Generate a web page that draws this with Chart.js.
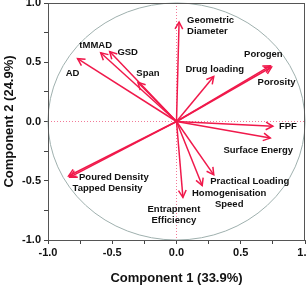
<!DOCTYPE html>
<html>
<head>
<meta charset="utf-8">
<script src="https://cdn.jsdelivr.net/npm/chart.js@4.4.0/dist/chart.umd.min.js"></script>
<style>
  html, body { margin: 0; padding: 0; background: #fff; }
  #wrap { width: 307px; height: 286px; }
</style>
</head>
<body>
<div id="wrap"><canvas id="pca"></canvas></div>
<script>
// loadings
const names = [
  ["AD"], ["tMMAD"], ["GSD"], ["Span"],
  ["Geometric", "Diameter"], ["Drug loading"],
  ["Porogen"], ["Porosity"], ["FPF"], ["Surface Energy"],
  ["Practical Loading"], ["Homogenisation", "Speed"],
  ["Entrapment", "Efficiency"], ["Poured Density"], ["Tapped Density"]
];
const comp1 = [-0.77, -0.59, -0.52, -0.30, 0.02, 0.29, 0.73, 0.74, 0.75, 0.73, 0.29, 0.20, 0.05, -0.83, -0.84];
const comp2 = [0.53, 0.58, 0.59, 0.33, 0.84, 0.38, 0.47, 0.46, -0.04, -0.14, -0.45, -0.54, -0.64, -0.47, -0.46];
const axisTitles = ["Component 1 (33.9%)", "Component 2 (24.9%)"];

// label placement relative to the arrow tip (px): dx, dy, align
const labelAt = [
  [-5, 15, "center"], [-5, -7, "center"], [18, 1, "center"], [10, -9, "center"],
  [8, -2, "left"], [1, -7, "center"],
  [-7, -11, "center"], [5, 15, "center"], [15, 0, "center"], [-12, 12, "center"],
  [36, 7, "center"], [27, 8, "center"],
  [-9, 12, "center"], [44, 0, "center"], [39, 12, "center"]
];

const RED = "#f0194b";
const FONT = "'Liberation Sans', Arial, sans-serif";

const datasets = names.map((n, i) => ({
  label: n.join(" "),
  data: [{x: 0, y: 0}, {x: comp1[i], y: comp2[i]}],
  showLine: true,
  borderColor: RED,
  borderWidth: 1.5,
  pointRadius: 0,
  pointHoverRadius: 0
}));

const biplot = {
  id: "biplot",
  beforeDatasetsDraw(chart) {
    const {ctx, chartArea: a, scales: {x, y}} = chart;
    const cx = x.getPixelForValue(0), cy = y.getPixelForValue(0);
    ctx.save();
    // unit circle
    ctx.strokeStyle = "#9fb0ae";
    ctx.lineWidth = 1;
    ctx.beginPath();
    ctx.ellipse(cx, cy, x.getPixelForValue(1) - cx, cy - y.getPixelForValue(1), 0, 0, Math.PI * 2);
    ctx.stroke();
    // zero lines
    ctx.strokeStyle = "#f27a98";
    ctx.setLineDash([1, 2]);
    ctx.beginPath();
    ctx.moveTo(cx, a.top); ctx.lineTo(cx, a.bottom);
    ctx.moveTo(a.left, cy); ctx.lineTo(a.right, cy);
    ctx.stroke();
    ctx.restore();
  },
  afterDatasetsDraw(chart) {
    const {ctx, chartArea: a, scales: {x, y}} = chart;
    const cx = x.getPixelForValue(0), cy = y.getPixelForValue(0);
    ctx.save();
    // arrow heads
    ctx.strokeStyle = RED;
    ctx.lineWidth = 1.5;
    comp1.forEach((v, i) => {
      const px = x.getPixelForValue(v), py = y.getPixelForValue(comp2[i]);
      const ang = Math.atan2(py - cy, px - cx);
      ctx.beginPath();
      ctx.moveTo(px - 8 * Math.cos(ang - 0.5), py - 8 * Math.sin(ang - 0.5));
      ctx.lineTo(px, py);
      ctx.lineTo(px - 8 * Math.cos(ang + 0.5), py - 8 * Math.sin(ang + 0.5));
      ctx.stroke();
    });
    // labels
    ctx.fillStyle = "#111";
    ctx.font = "bold 9.5px " + FONT;
    ctx.textBaseline = "middle";
    names.forEach((lines, i) => {
      const px = x.getPixelForValue(comp1[i]), py = y.getPixelForValue(comp2[i]);
      const [dx, dy, al] = labelAt[i];
      ctx.textAlign = al;
      lines.forEach((t, k) => ctx.fillText(t, px + dx, py + dy + k * 11));
    });
    // frame
    ctx.strokeStyle = "#555";
    ctx.lineWidth = 1;
    ctx.strokeRect(a.left + 0.5, a.top + 0.5, a.right - a.left - 1, a.bottom - a.top);
    ctx.restore();
  }
};

const tickFmt = v => (Math.abs(v * 2 - Math.round(v * 2)) < 1e-6 ? v.toFixed(1) : "");

new Chart(document.getElementById("pca"), {
  type: "scatter",
  data: { datasets },
  options: {
    responsive: true,
    maintainAspectRatio: false,
    animation: false,
    layout: { padding: { top: 3, right: 2, left: 0, bottom: 0 } },
    plugins: { legend: { display: false }, tooltip: { enabled: false } },
    scales: {
      x: {
        min: -1, max: 1,
        afterFit: s => { s.height = 46; s.paddingLeft = 0; s.paddingRight = 0; },
        ticks: { stepSize: 0.25, callback: tickFmt, color: "#111", padding: 2, maxRotation: 0,
                 font: { family: FONT, size: 11, weight: "bold" } },
        grid: { drawOnChartArea: false, tickLength: 4, color: "#444" },
        border: { color: "#555" },
        title: { display: true, text: axisTitles[0], color: "#111", padding: { top: 0, bottom: 0 },
                 font: { family: FONT, size: 13, weight: "bold" } }
      },
      y: {
        min: -1, max: 1,
        afterFit: s => { s.width = 48; s.paddingTop = 0; s.paddingBottom = 0; },
        ticks: { stepSize: 0.25, callback: tickFmt, color: "#111", padding: 3,
                 font: { family: FONT, size: 11, weight: "bold" } },
        grid: { drawOnChartArea: false, tickLength: 4, color: "#444" },
        border: { color: "#555" },
        title: { display: true, text: axisTitles[1], color: "#111", padding: { top: 2, bottom: 0 },
                 font: { family: FONT, size: 13, weight: "bold" } }
      }
    }
  },
  plugins: [biplot]
});
</script>
</body>
</html>
